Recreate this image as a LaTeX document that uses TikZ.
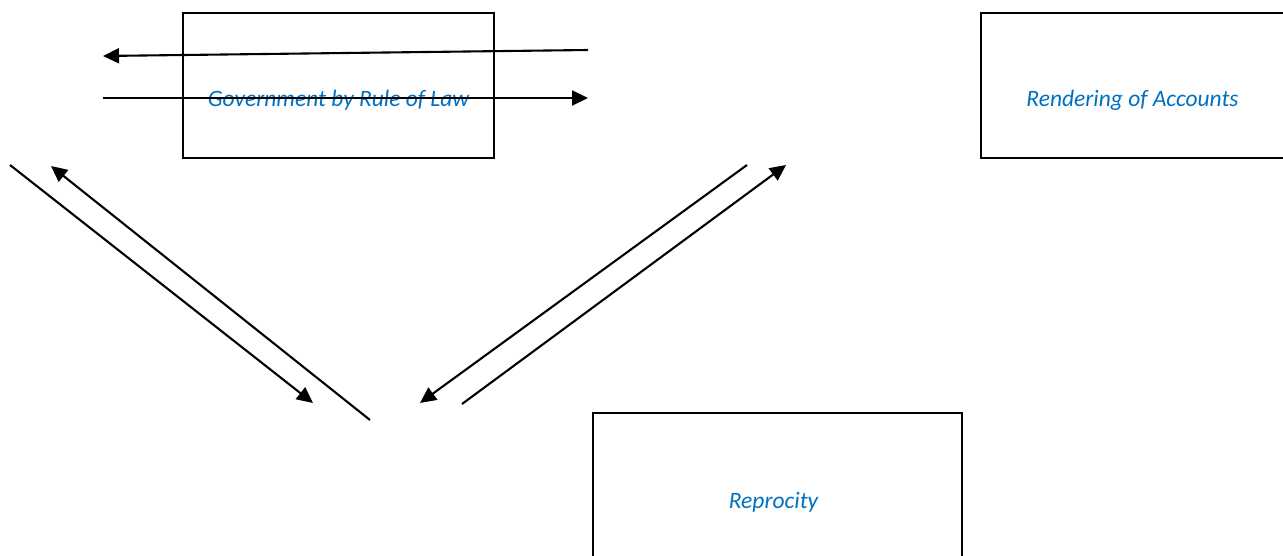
\documentclass[tikz,border=0pt]{standalone}
\usepackage{fontspec}
\setmainfont{Carlito}
\usepackage{tikz}
\usetikzlibrary{arrows.meta,positioning}
\definecolor{textblue}{RGB}{0,112,192}

\begin{document}
\begin{tikzpicture}[x=1pt,y=-1pt,
		box/.style={draw,line width=1.7pt,inner sep=0pt},
		boxtext/.style={text=textblue,font=\fontsize{23.5}{28}\selectfont\itshape,inner sep=0pt},
		arr/.style={line width=2.1pt,-{Triangle[length=16pt,width=15pt]}}]
	 			\useasboundingbox (0,0) rectangle (1283,556);
	 			\node[box, minimum width=311pt, minimum height=145pt] (law) at (338.5,85.5) {};
	 			\node[box, minimum width=303pt, minimum height=145pt] (acc) at (1132.5,85.5) {};
	 			\node[box, minimum width=369pt, minimum height=174pt] (rec) at (777.5,500) {};
	 			\node[boxtext] (law_t) at ([yshift=-15pt]law.center) {Government by Rule of Law};
	 			\node[boxtext] (acc_t) at ([yshift=-15pt]acc.center) {Rendering of Accounts};
	 			\node[boxtext] (rec_t) at ([xshift=-4pt,yshift=-2pt]rec.center) {Reprocity};
	 			\coordinate (h_0) at (588,50);
	 			\coordinate (h_1) at (103,56);
	 			\coordinate (h_2) at (103,98);
	 			\coordinate (h_3) at (588,98);
	 			\coordinate (l_0) at (10,165);
	 			\coordinate (l_1) at (313,403);
	 			\coordinate (l_2) at (370,420);
	 			\coordinate (l_3) at (51,166);
	 			\coordinate (r_0) at (747,165);
	 			\coordinate (r_1) at (420,403);
	 			\coordinate (r_2) at (462,404);
	 			\coordinate (r_3) at (786,165);
	 			\path[arr]
	 			(h_0) edge (h_1)
	 			(h_2) edge (h_3)
	 			(l_0) edge (l_1)
	 			(l_2) edge (l_3)
	 			(r_0) edge (r_1)
	 			(r_2) edge (r_3);
	 		\end{tikzpicture}
\end{document}
